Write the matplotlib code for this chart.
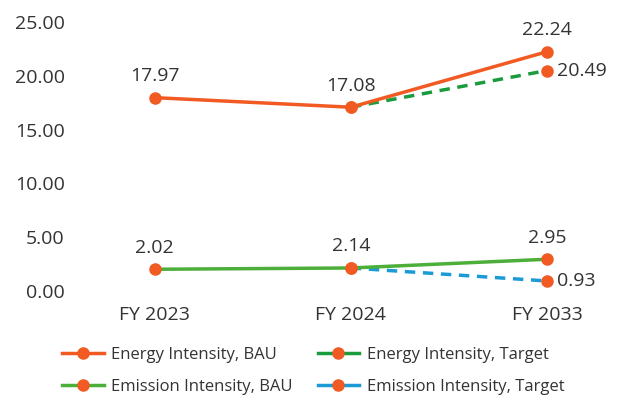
import numpy as np
import matplotlib.pyplot as plt

plt.rcParams['font.family'] = ['Open Sans', 'DejaVu Sans']

years = ['FY 2023', 'FY 2024', 'FY 2033']
energy_bau = [17.97, 17.08, 22.24]
energy_target = [np.nan, 17.08, 20.49]
emission_bau = [2.02, 2.14, 2.95]
emission_target = [np.nan, 2.14, 0.93]

orange = '#f15a22'
dark_green = '#1a9c3e'
light_green = '#4caf3a'
blue = '#1c9ad6'
text_col = '#333333'

fig = plt.figure(figsize=(6.24, 3.98), dpi=100)
ax = fig.add_axes([80 / 624, 1 - 291 / 398, 520 / 624, 269 / 398])
x = np.arange(len(years))

mk = dict(marker='o', markersize=8, markerfacecolor=orange, markeredgecolor=orange)
ax.plot(x, energy_target, color=dark_green, lw=2.5, ls=(0, (3, 2.2)), zorder=2,
        label='Energy Intensity, Target', **mk)
ax.plot(x, emission_target, color=blue, lw=2.5, ls=(0, (3, 2.2)), zorder=2,
        label='Emission Intensity, Target', **mk)
ax.plot(x, energy_bau, color=orange, lw=2.5, zorder=3,
        label='Energy Intensity, BAU', **mk)
ax.plot(x, emission_bau, color=light_green, lw=2.5, zorder=3,
        label='Emission Intensity, BAU', **mk)

# value labels
for series in (energy_bau, emission_bau):
    for i, v in enumerate(series):
        ax.annotate(f'{v:.2f}', (x[i], v), xytext=(0, 9), textcoords='offset points',
                    ha='center', va='bottom', fontsize=14, color=text_col)
for series in (energy_target, emission_target):
    ax.annotate(f'{series[-1]:.2f}', (x[-1], series[-1]), xytext=(7, 0),
                textcoords='offset points', ha='left', va='center',
                fontsize=14, color=text_col)

ax.set_xlim(-0.38, 2.27)
ax.set_ylim(0, 25)
ax.set_yticks(np.arange(0, 26, 5))
ax.set_yticklabels([f'{t:.2f}' for t in np.arange(0, 26, 5)])
ax.set_xticks(x)
ax.set_xticklabels(years)
ax.tick_params(length=0, labelsize=14, labelcolor=text_col)
ax.tick_params(axis='x', pad=11)
ax.tick_params(axis='y', pad=11)
for s in ax.spines.values():
    s.set_visible(False)

handles, labels = ax.get_legend_handles_labels()
order = [2, 3, 0, 1]
leg = fig.legend([handles[i] for i in order], [labels[i] for i in order],
                 ncol=2, loc='lower left', bbox_to_anchor=(47 / 624, -0.03),
                 frameon=False, fontsize=12, handlelength=2.5,
                 columnspacing=1.5, handletextpad=0.45, labelspacing=0.95)
for t in leg.get_texts():
    t.set_color(text_col)
for h in leg.get_lines():
    h.set_linestyle('-')

fig.savefig('out.png', dpi=100, facecolor='white')
